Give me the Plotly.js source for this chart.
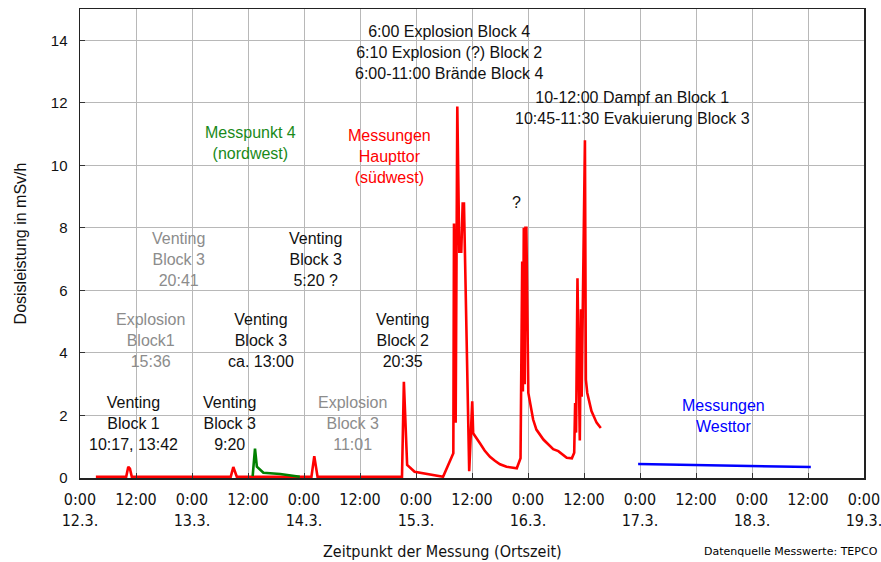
<!DOCTYPE html>
<html>
<head>
<meta charset="utf-8">
<script src="https://cdn.plot.ly/plotly-3.0.1.min.js"></script>
<style>html,body{margin:0;padding:0;background:#fff;}#chart{width:881px;height:562px;}</style>
</head>
<body>
<div id="chart"></div>
<script>
// hours since 12.3. 0:00 (local time)
const haupttorHours = [3.4, 9.9, 10.35, 10.7, 11.1, 32.3, 32.85, 33.6, 49.6, 50.2, 50.9, 69.0, 69.4, 70.1, 71.7, 77.8,
  80.0, 80.14, 80.5, 80.85, 81.28, 81.7, 82.0, 82.28, 83.4, 83.9, 84.05, 84.25, 85.0, 85.7, 86.7, 87.85, 88.9, 90.0, 91.4, 93.6, 94.4,
  94.76, 94.9, 95.1, 95.3, 95.45, 95.65, 96.07, 97.1, 97.8, 99.3, 101.4, 102.5, 104.3, 105.4, 105.9, 106.1, 106.3,
  106.6, 106.9, 107.1, 107.35, 107.5, 108.2, 108.4, 108.7, 109.6, 110.7, 111.6];
const haupttorDose = [0.04, 0.04, 0.36, 0.3, 0.04, 0.04, 0.35, 0.04, 0.04, 0.7, 0.04, 0.04, 3.08, 0.42, 0.2, 0.04,
  0.79, 8.14, 1.77, 11.88, 7.24, 7.24, 8.78, 8.78, 0.22, 2.45, 2.45, 1.43, 1.28, 1.11, 0.88, 0.68, 0.55, 0.44, 0.36, 0.31, 0.63,
  6.92, 2.77, 8.0, 3.0, 8.0, 8.0, 2.72, 1.87, 1.55, 1.23, 0.92, 0.86, 0.65, 0.63, 0.81, 2.4, 1.45,
  6.39, 1.93, 1.2, 5.4, 2.6, 10.8, 3.15, 2.72, 2.14, 1.77, 1.6];
const messpunkt4Hours = [37.0, 37.5, 37.9, 39.3, 42.9, 47.1];
const messpunkt4Dose = [0.06, 0.94, 0.36, 0.17, 0.13, 0.04];
const westtorHours = [119.6, 156.6];
const westtorDose = [0.45, 0.35];
const tickHours = [0, 12, 24, 36, 48, 60, 72, 84, 96, 108, 120, 132, 144, 156, 168];
const tickLabels = ["0:00<br>12.3.", "12:00", "0:00<br>13.3.", "12:00", "0:00<br>14.3.", "12:00", "0:00<br>15.3.", "12:00",
  "0:00<br>16.3.", "12:00", "0:00<br>17.3.", "12:00", "0:00<br>18.3.", "12:00", "0:00<br>19.3."];

const txtFont = {family: 'Liberation Sans, Arial, sans-serif', size: 16, color: '#111'};
const grayFont = Object.assign({}, txtFont, {color: '#8c8c8c'});
function ann(x, y, text, font) {
  return {x: x, y: y, xref: 'x', yref: 'y', text: text, showarrow: false, font: font, align: 'center'};
}
const annotations = [
  ann(11.4, 1.75, 'Venting<br>Block 1<br>10:17, 13:42', txtFont),
  ann(32.0, 1.75, 'Venting<br>Block 3<br>9:20', txtFont),
  ann(15.2, 4.4, 'Explosion<br>Block1<br>15:36', grayFont),
  ann(21.2, 7.0, 'Venting<br>Block 3<br>20:41', grayFont),
  ann(38.8, 4.4, 'Venting<br>Block 3<br>ca. 13:00', txtFont),
  ann(50.4, 7.0, 'Venting<br>Block 3<br>5:20 ?', txtFont),
  ann(58.3, 1.75, 'Explosion<br>Block 3<br>11:01', grayFont),
  ann(69.2, 4.4, 'Venting<br>Block 2<br>20:35', txtFont),
  ann(36.5, 10.7, 'Messpunkt 4<br>(nordwest)', Object.assign({}, txtFont, {color: '#1a8a1a'})),
  ann(66.4, 10.28, 'Messungen<br>Haupttor<br>(südwest)', Object.assign({}, txtFont, {color: '#ff0000'})),
  ann(79.0, 13.6, '6:00 Explosion Block 4<br>6:10 Explosion (?) Block 2<br>6:00-11:00 Brände Block 4', txtFont),
  ann(118.3, 11.83, '10-12:00 Dampf an Block 1<br>10:45-11:30 Evakuierung Block 3', txtFont),
  ann(93.6, 8.82, '?', txtFont),
  ann(137.8, 1.97, 'Messungen<br>Westtor', Object.assign({}, txtFont, {color: '#0000ff'})),
  {x: 442, y: 551, xref: 'paper', yref: 'paper', text: 'Zeitpunkt der Messung (Ortszeit)', showarrow: false,
   font: {family: 'Liberation Sans Narrow, DejaVu Sans Condensed, sans-serif', size: 16, color: '#111'}},
  {x: 880, y: 551, xref: 'paper', yref: 'paper', text: 'Datenquelle Messwerte: TEPCO', showarrow: false, xanchor: 'right',
   font: {family: 'DejaVu Sans, sans-serif', size: 11, color: '#000'}}
];
// convert pixel positions of the two paper annotations into paper fractions
const M = {l: 80, r: 17, t: 9, b: 84};
const W = 881, H = 562, pw = W - M.l - M.r, ph = H - M.t - M.b;
annotations.forEach(a => {
  if (a.xref === 'paper') { a.x = (a.x - M.l) / pw; a.y = (H - M.b - a.y) / ph; a.yanchor = 'middle'; }
});

const traces = [
  {x: haupttorHours, y: haupttorDose, mode: 'lines', line: {color: '#ff0000', width: 2.6}, hoverinfo: 'skip'},
  {x: messpunkt4Hours, y: messpunkt4Dose, mode: 'lines', line: {color: '#008000', width: 2.6}, hoverinfo: 'skip'},
  {x: westtorHours, y: westtorDose, mode: 'lines', line: {color: '#0000ff', width: 2.6}, hoverinfo: 'skip'}
];
const layout = {
  width: W, height: H, margin: M, showlegend: false,
  paper_bgcolor: '#fff', plot_bgcolor: '#fff',
  font: {family: 'Liberation Sans, Arial, sans-serif', size: 15, color: '#111'},
  xaxis: {range: [0, 168], tickvals: tickHours, ticktext: tickLabels, showgrid: true, gridcolor: '#b8b8b8', gridwidth: 1,
    ticks: 'inside', ticklen: 5, tickcolor: '#333', zeroline: false, showline: true, linecolor: '#222', linewidth: 1.5,
    mirror: true, ticklabelstandoff: 6, ticklabeloverflow: 'allow',
    tickfont: {family: 'Liberation Sans Narrow, DejaVu Sans Condensed, sans-serif', size: 16, color: '#111'}},
  yaxis: {range: [0, 15], tickvals: [0, 2, 4, 6, 8, 10, 12, 14], showgrid: true, gridcolor: '#b8b8b8', gridwidth: 1,
    ticks: 'inside', ticklen: 5, tickcolor: '#333', zeroline: false, showline: true, linecolor: '#222', linewidth: 1.5,
    mirror: true, ticklabelstandoff: 8,
    tickfont: {family: 'Liberation Sans, Arial, sans-serif', size: 15, color: '#111'},
    title: {text: 'Dosisleistung in mSv/h', standoff: 20, font: {family: 'Liberation Sans, Arial, sans-serif', size: 16, color: '#111'}}},
  annotations: annotations
};
Plotly.newPlot('chart', traces, layout, {staticPlot: true});
</script>
</body>
</html>
